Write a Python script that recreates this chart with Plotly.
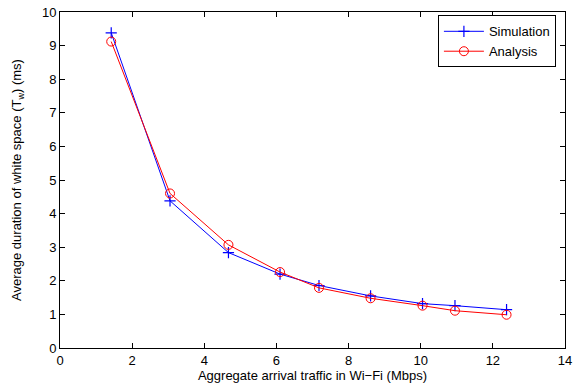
import plotly.graph_objects as go

traffic = [1.42, 3.05, 4.67, 6.1, 7.18, 8.61, 10.05, 10.95, 12.38]
simulation = [9.38, 4.38, 2.84, 2.2, 1.86, 1.55, 1.32, 1.26, 1.14]
analysis = [9.12, 4.6, 3.07, 2.26, 1.79, 1.48, 1.26, 1.11, 0.99]

x_ticks = [0, 2, 4, 6, 8, 10, 12, 14]
y_ticks = list(range(0, 11))

fig = go.Figure()
fig.add_trace(go.Scatter(
    x=traffic, y=simulation, name="Simulation", mode="lines+markers",
    line=dict(color="#0000ff", width=1),
    marker=dict(symbol="cross-thin", size=8, line=dict(color="#0000ff", width=1.2)),
))
fig.add_trace(go.Scatter(
    x=traffic, y=analysis, name="Analysis", mode="lines+markers",
    line=dict(color="#ff0000", width=1),
    marker=dict(symbol="circle-open", size=9, color="#ff0000", line=dict(width=1)),
))

axis_common = dict(
    showline=True, linecolor="black", linewidth=1, mirror="allticks",
    ticks="inside", ticklen=5, tickcolor="black", showgrid=False, zeroline=False,
    tickfont=dict(size=13, color="black"), automargin=False,
)
fig.update_xaxes(range=[0, 14], tickvals=x_ticks,
                 title=dict(text="Aggregate arrival traffic in Wi\u2212Fi (Mbps)", font=dict(size=13, color="black"), standoff=0),
                 **axis_common)
fig.update_yaxes(range=[0, 10], tickvals=y_ticks,
                 title=dict(text="Average duration of white space (T<sub>w</sub>) (ms)", font=dict(size=13, color="black"), standoff=17),
                 **axis_common)

fig.update_layout(
    width=573, height=388,
    margin=dict(l=60, r=8, t=12, b=40),
    paper_bgcolor="white", plot_bgcolor="white",
    font=dict(family="Liberation Sans, Arial, sans-serif", size=13, color="black"),
    showlegend=True,
    legend=dict(x=0.982, y=0.99, xanchor="right", yanchor="top",
                bordercolor="black", borderwidth=1, bgcolor="white",
                font=dict(size=13), tracegroupgap=0, itemwidth=40,
                itemclick=False, itemdoubleclick=False),
)

fig.write_html("out.html", config={"displayModeBar": False},
               post_script="document.body.style.margin='0';")
